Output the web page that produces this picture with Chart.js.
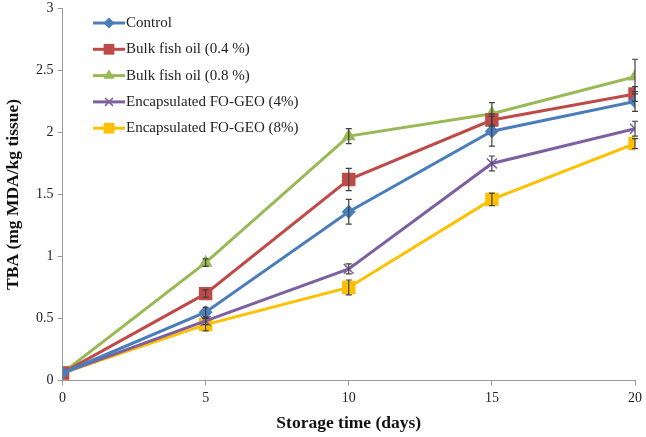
<!DOCTYPE html>
<html>
<head>
<meta charset="utf-8">
<script src="https://cdn.jsdelivr.net/npm/chart.js@4"></script>
<style>
  body { margin: 0; background: #fff; overflow: hidden; }
  #wrap { width: 646px; height: 441px; margin-top: -4px; }
</style>
</head>
<body>
<div id="wrap"><canvas id="tba"></canvas></div>
<script>
// data
const days = [0, 5, 10, 15, 20];
const seriesNames = ['Control', 'Bulk fish oil (0.4 %)', 'Bulk fish oil (0.8 %)', 'Encapsulated FO-GEO (4%)', 'Encapsulated FO-GEO (8%)'];
const control = [0.06, 0.55, 1.36, 2.01, 2.25];
const bulk04 = [0.06, 0.70, 1.62, 2.10, 2.31];
const bulk08 = [0.06, 0.95, 1.97, 2.15, 2.45];
const enc4 = [0.06, 0.48, 0.90, 1.75, 2.03];
const enc8 = [0.06, 0.45, 0.75, 1.46, 1.91];
// standard deviations (error bars)
const controlErr = [0, 0.04, 0.10, 0.12, 0.08];
const bulk04Err = [0, 0.03, 0.09, 0.05, 0.06];
const bulk08Err = [0, 0.03, 0.06, 0.09, 0.14];
const enc4Err = [0, 0.03, 0.04, 0.06, 0.06];
const enc8Err = [0, 0.05, 0.06, 0.05, 0.04];

const colors = ['#4a7ebb', '#be4b48', '#98b954', '#7d60a0', '#ffc000'];
const markers = ['rectRot', 'rect', 'triangle', 'crossRot', 'rect'];
const radii = [7, 9.5, 8, 7, 9.5];
const values = [control, bulk04, bulk08, enc4, enc8];
const errors = [controlErr, bulk04Err, bulk08Err, enc4Err, enc8Err];

const serif = "'Liberation Serif', 'Times New Roman', serif";

const datasets = seriesNames.map((name, i) => ({
    label: name,
    data: days.map((d, j) => ({ x: d, y: values[i][j] })),
    borderColor: colors[i],
    backgroundColor: colors[i],
    borderWidth: 3,
    pointStyle: markers[i],
    pointRadius: radii[i],
    pointBorderWidth: markers[i] === 'crossRot' ? 1.5 : 0,
    pointBorderColor: colors[i],
    tension: 0,
    errs: errors[i]
}));

//error bars
const errorBars = {
    id: 'errorBars',
    afterDatasetsDraw: (chart) => {
        const ctx = chart.ctx;
        const y = chart.scales.y;
        ctx.save();
        ctx.strokeStyle = '#404040';
        ctx.lineWidth = 1.2;
        chart.data.datasets.forEach((ds, i) => {
            const meta = chart.getDatasetMeta(i);
            meta.data.forEach((pt, j) => {
                const e = ds.errs[j];
                if (!e) return;
                const v = ds.data[j].y;
                const top = y.getPixelForValue(v + e);
                const bot = y.getPixelForValue(v - e);
                ctx.beginPath();
                ctx.moveTo(pt.x, top); ctx.lineTo(pt.x, bot);
                ctx.moveTo(pt.x - 3, top); ctx.lineTo(pt.x + 3, top);
                ctx.moveTo(pt.x - 3, bot); ctx.lineTo(pt.x + 3, bot);
                ctx.stroke();
            });
        });
        ctx.restore();
    }
};

//legend drawn inside plot area (canvas is shifted up 4px)
const insideLegend = {
    id: 'insideLegend',
    afterDraw: (chart) => {
        const ctx = chart.ctx;
        ctx.save();
        chart.data.datasets.forEach((ds, i) => {
            const yy = 27 + i * 26.3;
            ctx.strokeStyle = ds.borderColor;
            ctx.lineWidth = 3;
            ctx.beginPath();
            ctx.moveTo(93, yy); ctx.lineTo(125, yy);
            ctx.stroke();
            ctx.fillStyle = ds.backgroundColor;
            ctx.strokeStyle = ds.borderColor;
            ctx.lineWidth = ds.pointBorderWidth || 1;
            Chart.helpers.drawPoint(ctx, { pointStyle: ds.pointStyle, radius: ds.pointRadius * 0.8, borderWidth: ds.pointBorderWidth }, 109, yy);
            ctx.fillStyle = '#222';
            ctx.font = '15px ' + serif;
            ctx.textBaseline = 'middle';
            ctx.fillText(ds.label, 126, yy);
        });
        ctx.restore();
    }
};

const config = {
    type: 'line',
    data: { datasets: datasets },
    options: {
        responsive: true,
        maintainAspectRatio: false,
        animation: false,
        layout: { padding: { top: 0, right: 11, left: 0, bottom: 0 } },
        plugins: {
            legend: { display: false },
            tooltip: { enabled: false }
        },
        scales: {
            x: {
                type: 'linear',
                min: 0, max: 20,
                ticks: { stepSize: 5, color: '#222', font: { family: serif, size: 14 }, padding: 4 },
                grid: { drawOnChartArea: false, tickLength: 5, color: '#9a9a9a' },
                border: { color: '#9a9a9a', width: 1 },
                title: { display: true, text: 'Storage time (days)', color: '#111', font: { family: serif, size: 17.5, weight: 'bold', lineHeight: 1.1 }, padding: { top: 4, bottom: 3.5 } }
            },
            y: {
                min: 0, max: 3,
                ticks: { stepSize: 0.5, color: '#222', font: { family: serif, size: 14 }, padding: 4,
                    callback: (v) => String(Math.round(v * 10) / 10) },
                grid: { drawOnChartArea: false, tickLength: 5, color: '#9a9a9a' },
                border: { color: '#9a9a9a', width: 1 },
                title: { display: true, text: 'TBA (mg MDA/kg tissue)', color: '#111', font: { family: serif, size: 17.5, weight: 'bold' }, padding: { top: 3, bottom: 8 } }
            }
        }
    },
    plugins: [errorBars, insideLegend]
};

const chart = new Chart(document.getElementById('tba'), config);
</script>
</body>
</html>
